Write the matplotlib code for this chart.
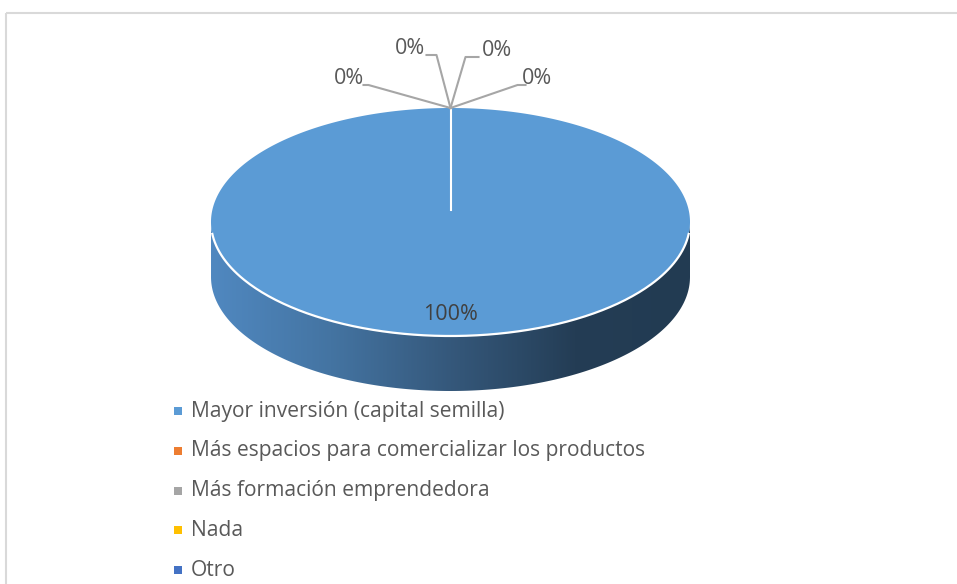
import matplotlib
matplotlib.use('Agg')
import matplotlib.pyplot as plt
import numpy as np
from matplotlib.patches import Polygon, Rectangle
from matplotlib.colors import LinearSegmentedColormap

# datos de la grafica
categorias = ['Mayor inversión (capital semilla)',
              'Más espacios para comercializar los productos',
              'Más formación emprendedora',
              'Nada',
              'Otro']
valores = [100, 0, 0, 0, 0]
colores = ['#5B9BD5', '#ED7D31', '#A5A5A5', '#FFC000', '#4472C4']

# geometria del pastel 3D (en pixeles)
cx, cy = 450.5, 222.0
ra, rb = 239.5, 114.0
prof = 55.0

fig = plt.figure(figsize=(9.57, 5.84), dpi=100)
ax = fig.add_axes([0, 0, 1, 1])
ax.set_xlim(0, 957)
ax.set_ylim(584, 0)
ax.axis('off')

# marco del area del grafico
ax.add_patch(Rectangle((5.5, 12.5), 1000, 700, fill=False, edgecolor='#d9d9d9', lw=1.5))

def punto(theta, dy=0.0):
    """angulo en grados, desde las 12 en sentido horario"""
    t = np.radians(theta)
    return cx + ra * np.sin(t), cy - rb * np.cos(t) + dy

total = float(sum(valores))
angulos = np.concatenate([[0], np.cumsum(valores) / total * 360.0])

# lado (parte frontal visible: de 90 a 270 grados)
t = np.linspace(90, 270, 200)
arriba = np.array([punto(a) for a in t])
abajo = np.array([punto(a, prof) for a in t[::-1]])
lado = Polygon(np.vstack([arriba, abajo]), closed=True, facecolor='none', edgecolor='none')
ax.add_patch(lado)
cmap = LinearSegmentedColormap.from_list('lado', [(0, '#5088c0'), (0.25, '#4474a2'), (0.5, '#35587b'),
                                                  (0.67, '#2a4763'), (0.76, '#243d55'), (1, '#223b52')])
grad = np.linspace(0, 1, 256).reshape(1, -1)
img = ax.imshow(grad, cmap=cmap, extent=(cx - ra, cx + ra, cy + rb + prof + 2, cy - 2), aspect='auto', zorder=1)
img.set_clip_path(lado)

# cara superior
for i, v in enumerate(valores):
    if v <= 0:
        continue
    ts = np.linspace(angulos[i], angulos[i + 1], 400)
    pts = np.array([punto(a) for a in ts])
    if v < total:
        pts = np.vstack([[cx, cy], pts])
    ax.add_patch(Polygon(pts, closed=True, facecolor=colores[i], edgecolor='none', zorder=2))

# borde blanco frontal
borde = np.array([punto(a) for a in np.linspace(96, 264, 200)])
ax.plot(borde[:, 0], borde[:, 1], color='white', lw=1.6, zorder=3)

# lineas divisorias entre porciones
for a in np.unique(angulos % 360):
    x, y = punto(a)
    ax.plot([cx, x], [cy - 12, y], color='white', lw=1.5, zorder=3)

# etiquetas
texto = '#595959'
fuente = 'Open Sans'
i_max = int(np.argmax(valores))
mid = (angulos[i_max] + angulos[i_max + 1]) / 2
mx, my = punto(mid)
ax.text(cx + 0.0 * (mx - cx), cy + 0.81 * (my - cy), '%d%%' % round(valores[i_max] / total * 100),
        ha='center', va='center', fontsize=15.5, color='#404040', family=fuente, zorder=4)

# lineas guia para las porciones de 0%
desplaz = [(-82, -23, -5, 349, 78), (-14, -53, -10, 410, 48),
           (15, -51, 13, 497, 50), (67, -23, 8, 537, 78)]
ceros = [i for i, v in enumerate(valores) if v == 0]
for k, i in enumerate(ceros):
    x0, y0 = punto(angulos[i])
    dx, dy, h, lx, ly = desplaz[k]
    x1, y1 = x0 + dx, y0 + dy
    ax.plot([x0, x1, x1 + h], [y0, y1, y1], color='#a6a6a6', lw=1.5, zorder=3)
    ax.text(lx, ly, '%d%%' % round(valores[i] / total * 100), ha='center', va='center',
            fontsize=15.5, color=texto, family=fuente, zorder=4)

# leyenda
for i, c in enumerate(categorias):
    y = 411 + i * 39.8
    ax.scatter([177.5], [y], marker='s', s=26, color=colores[i], zorder=4, linewidths=0)
    ax.text(191, y, c, ha='left', va='center', fontsize=15.1, color=texto, family=fuente, zorder=4)

plt.savefig('out.png', dpi=100)
